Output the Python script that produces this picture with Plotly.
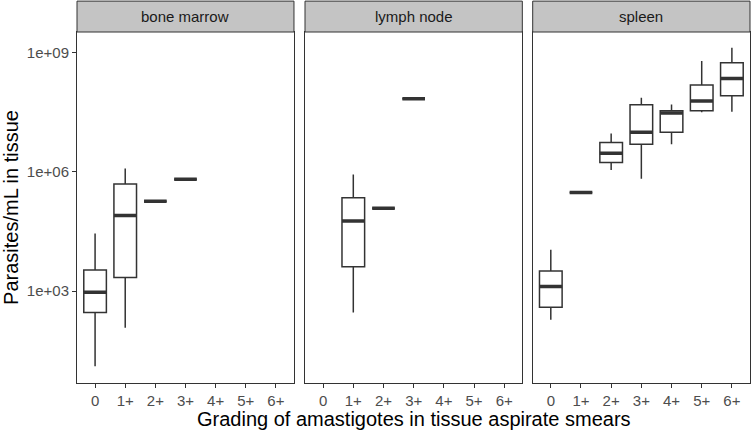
import plotly.graph_objects as go

grades = ["0", "1+", "2+", "3+", "4+", "5+", "6+"]
tissues = ["bone marrow", "lymph node", "spleen"]

# Parasites/mL in tissue, five-number summaries
bm_x = ["0", "1+", "2+", "3+"]
bm_low = [1.3e1, 1.2e2, 1.8e5, 6.5e5]
bm_q1 = [2.9e2, 2.2e3, 1.8e5, 6.5e5]
bm_med = [9.3e2, 7.9e4, 1.8e5, 6.5e5]
bm_q3 = [3.4e3, 4.9e5, 1.8e5, 6.5e5]
bm_high = [2.8e4, 1.2e6, 1.8e5, 6.5e5]

ln_x = ["1+", "2+", "3+"]
ln_low = [2.9e2, 1.2e5, 6.8e7]
ln_q1 = [4.1e3, 1.2e5, 6.8e7]
ln_med = [5.8e4, 1.2e5, 6.8e7]
ln_q3 = [2.2e5, 1.2e5, 6.8e7]
ln_high = [8.5e5, 1.2e5, 6.8e7]

sp_x = ["0", "1+", "2+", "3+", "4+", "5+", "6+"]
sp_low = [1.9e2, 3.0e5, 1.1e6, 6.6e5, 4.9e6, 3.1e7, 3.2e7]
sp_q1 = [3.9e2, 3.0e5, 1.7e6, 4.9e6, 9.8e6, 3.4e7, 8.1e7]
sp_med = [1.3e3, 3.0e5, 2.9e6, 9.8e6, 3.0e7, 6.0e7, 2.2e8]
sp_q3 = [3.2e3, 3.0e5, 5.4e6, 4.8e7, 3.4e7, 1.5e8, 5.5e8]
sp_high = [1.1e4, 3.0e5, 9.1e6, 7.2e7, 4.9e7, 6.0e8, 1.3e9]

panels = [
    (bm_x, bm_low, bm_q1, bm_med, bm_q3, bm_high),
    (ln_x, ln_low, ln_q1, ln_med, ln_q3, ln_high),
    (sp_x, sp_low, sp_q1, sp_med, sp_q3, sp_high),
]

FONT = "Liberation Sans, Arial, sans-serif"
INK = "#333333"
domains = [[0.0, 0.3224], [0.3388, 0.6617], [0.6771, 1.0]]

fig = go.Figure()
for i, (x, low, q1, med, q3, high) in enumerate(panels):
    xa = "x" if i == 0 else "x%d" % (i + 1)
    ya = "y" if i == 0 else "y%d" % (i + 1)
    # box + whiskers
    fig.add_trace(go.Box(
        x=x, lowerfence=low, q1=q1, median=med, q3=q3, upperfence=high,
        width=0.75, whiskerwidth=0, fillcolor="white",
        line=dict(color=INK, width=1.5),
        xaxis=xa, yaxis=ya, showlegend=False, hoverinfo="skip"))
    # thick median bar
    fig.add_trace(go.Box(
        x=x, lowerfence=med, q1=med, median=med, q3=med, upperfence=med,
        width=0.75, whiskerwidth=0, fillcolor="rgba(0,0,0,0)",
        line=dict(color=INK, width=3.5),
        xaxis=xa, yaxis=ya, showlegend=False, hoverinfo="skip"))

layout = dict(
    width=752, height=432,
    margin=dict(l=77, r=2, t=32, b=49),
    plot_bgcolor="white", paper_bgcolor="white",
    boxmode="overlay",
    font=dict(family=FONT, color="#4d4d4d", size=15),
)
for i in range(3):
    n = "" if i == 0 else str(i + 1)
    layout["xaxis" + n] = dict(
        domain=domains[i], type="category", categoryorder="array",
        categoryarray=grades, range=[-0.6, 6.6],
        showgrid=False, zeroline=False, showline=True, linecolor=INK,
        linewidth=1, mirror=True, ticks="outside", ticklen=4,
        tickcolor=INK, tickfont=dict(size=15, color="#4d4d4d"),
        anchor="y" + n)
    layout["yaxis" + n] = dict(
        type="log", range=[0.69, 9.51], showgrid=False, zeroline=False,
        showline=True, linecolor=INK, linewidth=1, mirror=True,
        ticks="outside" if i == 0 else "", ticklen=4, tickcolor=INK,
        tickvals=[1e3, 1e6, 1e9], ticktext=["1e+03", "1e+06", "1e+09"],
        showticklabels=(i == 0), tickfont=dict(size=15, color="#4d4d4d"),
        anchor="x" + n)
    if i > 0:
        layout["yaxis" + n]["matches"] = "y"
layout["yaxis"]["title"] = dict(text="Parasites/mL in tissue",
                                font=dict(size=20, color="black"), standoff=3)
fig.update_layout(**layout)

shapes = []
annotations = []
for d, name in zip(domains, tissues):
    shapes.append(dict(type="rect", xref="paper", yref="paper",
                       x0=d[0], x1=d[1], y0=1.0, y1=1.088,
                       fillcolor="#c4c4c4", line=dict(color=INK, width=1)))
    annotations.append(dict(text=name, xref="paper", yref="paper",
                            x=(d[0] + d[1]) / 2, y=1.044, showarrow=False,
                            xanchor="center", yanchor="middle",
                            font=dict(size=15, color="#1a1a1a")))
annotations.append(dict(text="Grading of amastigotes in tissue aspirate smears",
                        xref="paper", yref="paper", x=0.5, y=-0.1026,
                        xanchor="center", yanchor="middle", showarrow=False,
                        font=dict(size=20, color="black")))
fig.update_layout(shapes=shapes, annotations=annotations)

fig.write_html("out.html", config={"displayModeBar": False},
               post_script="document.body.style.margin='0';")
